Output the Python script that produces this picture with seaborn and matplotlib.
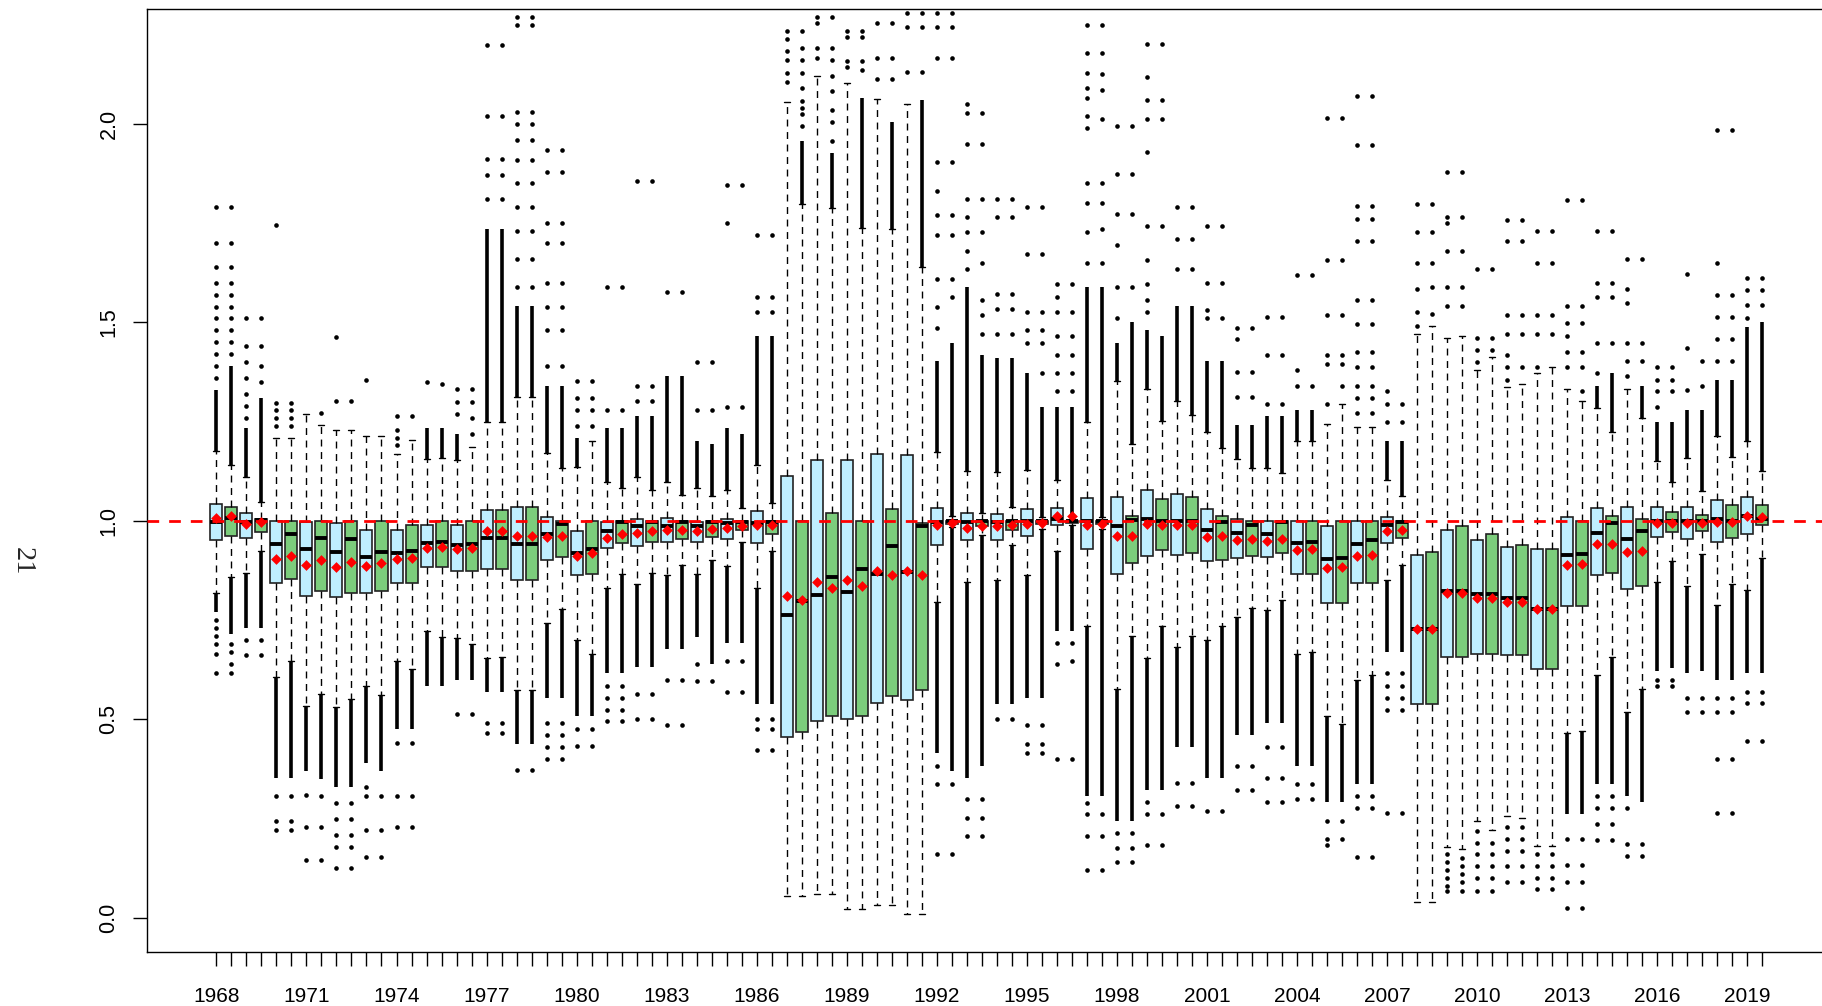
import numpy as np
import pandas as pd
import matplotlib
matplotlib.use("Agg")
import matplotlib.pyplot as plt
import seaborn as sns

sns.set_style("ticks")
plt.rcParams['font.family'] = ['Liberation Sans', 'DejaVu Sans']

years = list(range(1968, 2020))

# box stats, two boxes (blue, green) per year
q1 = [0.952, 0.963, 0.958, 0.971, 0.844, 0.855, 0.812, 0.824, 0.809, 0.819,
      0.819, 0.824, 0.844, 0.844, 0.883, 0.883, 0.875, 0.875, 0.878, 0.878,
      0.850, 0.850, 0.901, 0.909, 0.863, 0.866, 0.932, 0.944, 0.937, 0.948,
      0.948, 0.955, 0.948, 0.960, 0.955, 0.977, 0.944, 0.968, 0.457, 0.468,
      0.497, 0.508, 0.500, 0.508, 0.542, 0.559, 0.549, 0.574, 0.940, 0.992,
      0.951, 0.986, 0.951, 0.977, 0.963, 0.992, 0.991, 0.995, 0.929, 0.992,
      0.867, 0.893, 0.912, 0.927, 0.914, 0.920, 0.898, 0.901, 0.906, 0.912,
      0.909, 0.920, 0.866, 0.867, 0.793, 0.793, 0.843, 0.843, 0.944, 0.958,
      0.539, 0.539, 0.657, 0.657, 0.665, 0.665, 0.662, 0.662, 0.627, 0.627,
      0.785, 0.785, 0.863, 0.869, 0.829, 0.835, 0.960, 0.972, 0.955, 0.974,
      0.948, 0.958, 0.968, 0.989]
med = [0.998, 1.008, 0.998, 1.002, 0.943, 0.966, 0.929, 0.958, 0.921, 0.955,
       0.910, 0.921, 0.920, 0.924, 0.944, 0.948, 0.940, 0.943, 0.958, 0.958,
       0.943, 0.943, 0.966, 0.992, 0.920, 0.929, 0.975, 0.997, 0.986, 0.997,
       0.986, 0.997, 0.986, 0.997, 0.994, 0.998, 0.994, 0.997, 0.762, 0.798,
       0.813, 0.860, 0.821, 0.878, 0.866, 0.938, 0.872, 0.986, 0.997, 1.000,
       0.997, 1.000, 0.997, 1.000, 1.000, 1.000, 1.005, 1.000, 1.000, 1.000,
       0.988, 1.002, 1.005, 1.000, 1.000, 1.000, 0.977, 0.998, 0.969, 0.991,
       0.968, 0.998, 0.944, 0.948, 0.904, 0.906, 0.941, 0.952, 0.991, 0.997,
       0.727, 0.727, 0.824, 0.824, 0.815, 0.815, 0.806, 0.806, 0.778, 0.778,
       0.914, 0.917, 0.969, 0.994, 0.954, 0.975, 1.000, 1.000, 1.000, 1.000,
       1.005, 1.000, 1.012, 1.005]
q3 = [1.042, 1.035, 1.020, 1.006, 1.000, 1.000, 0.997, 1.000, 0.994, 1.000,
      0.978, 1.000, 0.977, 0.991, 0.991, 1.000, 0.989, 1.000, 1.028, 1.028,
      1.035, 1.035, 1.009, 1.000, 0.975, 1.000, 0.998, 1.000, 1.005, 1.000,
      1.008, 1.000, 0.998, 1.000, 1.005, 1.000, 1.025, 1.000, 1.113, 1.000,
      1.153, 1.020, 1.153, 1.000, 1.168, 1.029, 1.165, 0.996, 1.032, 1.000,
      1.020, 1.000, 1.017, 1.000, 1.029, 1.000, 1.032, 1.000, 1.059, 1.000,
      1.060, 1.012, 1.079, 1.056, 1.069, 1.060, 1.029, 1.012, 1.005, 1.000,
      1.000, 1.000, 1.000, 1.000, 0.986, 1.000, 1.000, 1.000, 1.009, 1.000,
      0.914, 0.921, 0.978, 0.986, 0.951, 0.966, 0.934, 0.940, 0.929, 0.929,
      1.009, 1.000, 1.032, 1.012, 1.034, 1.006, 1.035, 1.022, 1.035, 1.014,
      1.052, 1.039, 1.060, 1.040]
wlo = [0.819, 0.860, 0.870, 0.924, 0.608, 0.647, 0.535, 0.565, 0.531, 0.551,
       0.585, 0.562, 0.647, 0.627, 0.724, 0.708, 0.705, 0.690, 0.654, 0.658,
       0.573, 0.573, 0.742, 0.778, 0.701, 0.665, 0.832, 0.866, 0.840, 0.870,
       0.863, 0.890, 0.867, 0.901, 0.886, 0.948, 0.832, 0.924, 0.056, 0.056,
       0.060, 0.060, 0.022, 0.022, 0.034, 0.034, 0.009, 0.009, 0.796, 0.985,
       0.847, 0.965, 0.850, 0.940, 0.863, 0.980, 0.924, 0.990, 0.736, 0.980,
       0.577, 0.711, 0.654, 0.736, 0.682, 0.711, 0.701, 0.735, 0.759, 0.781,
       0.775, 0.801, 0.665, 0.670, 0.508, 0.489, 0.600, 0.611, 0.850, 0.890,
       0.040, 0.040, 0.179, 0.173, 0.245, 0.222, 0.256, 0.253, 0.181, 0.181,
       0.466, 0.472, 0.611, 0.657, 0.520, 0.577, 0.847, 0.898, 0.835, 0.917,
       0.789, 0.840, 0.827, 0.906]
whi = [1.176, 1.140, 1.110, 1.048, 1.210, 1.210, 1.270, 1.241, 1.228, 1.228,
       1.215, 1.215, 1.168, 1.205, 1.156, 1.159, 1.153, 1.187, 1.248, 1.248,
       1.313, 1.313, 1.171, 1.133, 1.137, 1.202, 1.097, 1.082, 1.110, 1.079,
       1.097, 1.066, 1.082, 1.063, 1.079, 1.032, 1.140, 1.045, 2.054, 1.799,
       2.120, 1.789, 2.102, 1.738, 2.063, 1.735, 2.051, 1.639, 1.174, 1.012,
       1.125, 1.020, 1.122, 1.035, 1.128, 1.010, 1.102, 1.006, 1.248, 1.010,
       1.353, 1.194, 1.333, 1.252, 1.302, 1.267, 1.225, 1.184, 1.156, 1.133,
       1.133, 1.120, 1.202, 1.202, 1.245, 1.295, 1.236, 1.236, 1.102, 1.063,
       1.472, 1.491, 1.461, 1.465, 1.380, 1.414, 1.338, 1.344, 1.372, 1.387,
       1.332, 1.301, 1.284, 1.224, 1.333, 1.259, 1.151, 1.097, 1.159, 1.076,
       1.213, 1.160, 1.202, 1.125]
means = [1.008, 1.012, 0.992, 0.997, 0.904, 0.912, 0.890, 0.901, 0.883, 0.897,
         0.886, 0.894, 0.904, 0.906, 0.932, 0.935, 0.929, 0.932, 0.974, 0.974,
         0.961, 0.961, 0.960, 0.963, 0.912, 0.918, 0.958, 0.968, 0.969, 0.974,
         0.977, 0.978, 0.974, 0.980, 0.983, 0.986, 0.989, 0.991, 0.810, 0.801,
         0.847, 0.832, 0.850, 0.835, 0.875, 0.863, 0.875, 0.863, 0.991, 0.994,
         0.983, 0.986, 0.986, 0.989, 0.992, 0.994, 1.012, 1.012, 0.991, 0.992,
         0.961, 0.963, 0.992, 0.991, 0.991, 0.991, 0.960, 0.961, 0.951, 0.954,
         0.949, 0.955, 0.927, 0.929, 0.881, 0.883, 0.912, 0.915, 0.974, 0.977,
         0.728, 0.728, 0.819, 0.819, 0.806, 0.806, 0.796, 0.796, 0.778, 0.778,
         0.890, 0.892, 0.941, 0.943, 0.923, 0.924, 0.994, 0.994, 0.994, 0.994,
         0.998, 0.997, 1.012, 1.009]

# where the packed outliers end (below and above the whiskers)
lo_dense = [0.770, 0.716, 0.731, 0.731, 0.353, 0.353, 0.370, 0.350, 0.330, 0.330,
            0.390, 0.370, 0.477, 0.477, 0.585, 0.585, 0.600, 0.600, 0.569, 0.569,
            0.438, 0.438, 0.554, 0.554, 0.508, 0.508, 0.616, 0.616, 0.631, 0.631,
            0.677, 0.677, 0.708, 0.639, 0.693, 0.693, 0.539, 0.539, 0.056, 0.056,
            0.060, 0.060, 0.022, 0.022, 0.034, 0.034, 0.009, 0.009, 0.415, 0.369,
            0.353, 0.384, 0.539, 0.539, 0.554, 0.554, 0.724, 0.724, 0.307, 0.307,
            0.245, 0.245, 0.323, 0.323, 0.431, 0.431, 0.353, 0.353, 0.461, 0.461,
            0.492, 0.492, 0.384, 0.384, 0.292, 0.292, 0.338, 0.338, 0.670, 0.670,
            0.040, 0.040, 0.179, 0.173, 0.245, 0.222, 0.256, 0.253, 0.181, 0.181,
            0.261, 0.261, 0.338, 0.338, 0.307, 0.292, 0.623, 0.630, 0.616, 0.623,
            0.600, 0.600, 0.616, 0.616]
up_dense = [1.330, 1.390, 1.233, 1.310, 1.210, 1.210, 1.270, 1.241, 1.228, 1.228,
            1.215, 1.215, 1.168, 1.205, 1.233, 1.233, 1.220, 1.187, 1.735, 1.735,
            1.542, 1.542, 1.341, 1.341, 1.210, 1.202, 1.233, 1.233, 1.264, 1.264,
            1.364, 1.364, 1.202, 1.195, 1.233, 1.218, 1.465, 1.465, 2.054, 1.958,
            2.120, 1.927, 2.102, 2.066, 2.063, 2.005, 2.051, 2.059, 1.403, 1.449,
            1.588, 1.418, 1.410, 1.410, 1.372, 1.287, 1.287, 1.287, 1.588, 1.588,
            1.449, 1.500, 1.480, 1.465, 1.542, 1.542, 1.403, 1.403, 1.241, 1.241,
            1.264, 1.264, 1.279, 1.279, 1.245, 1.295, 1.236, 1.236, 1.202, 1.202,
            1.472, 1.491, 1.461, 1.465, 1.380, 1.414, 1.338, 1.344, 1.372, 1.387,
            1.332, 1.301, 1.341, 1.372, 1.333, 1.341, 1.248, 1.248, 1.279, 1.279,
            1.356, 1.356, 1.488, 1.500]

# single outliers further out
lo_pts = [
    [0.75, 0.73, 0.71, 0.69, 0.665, 0.616], [0.69, 0.67, 0.64, 0.616],
    [0.70, 0.662], [0.70, 0.662],
    [0.307, 0.245, 0.222], [0.307, 0.245, 0.222],
    [0.31, 0.23, 0.145], [0.307, 0.23, 0.145],
    [0.29, 0.25, 0.21, 0.18, 0.125], [0.29, 0.25, 0.21, 0.18, 0.125],
    [0.33, 0.307, 0.222, 0.153], [0.307, 0.222, 0.153],
    [0.44, 0.307, 0.23], [0.44, 0.307, 0.23],
    [], [],
    [0.515], [0.515],
    [0.49, 0.465], [0.49, 0.465],
    [0.372], [0.372],
    [0.49, 0.46, 0.43, 0.40], [0.49, 0.46, 0.43, 0.40],
    [0.477, 0.434], [0.477, 0.434],
    [0.585, 0.554, 0.523, 0.495], [0.585, 0.554, 0.523, 0.495],
    [0.565, 0.50], [0.565, 0.50],
    [0.60, 0.485], [0.60, 0.485],
    [0.639, 0.596], [0.596],
    [0.646, 0.569], [0.646, 0.569],
    [0.50, 0.477, 0.423], [0.50, 0.477, 0.423],
    [], [],
    [], [], [], [], [], [], [], [],
    [0.384, 0.338, 0.16], [0.338, 0.16],
    [0.30, 0.253, 0.207], [0.30, 0.253, 0.207],
    [0.50], [0.50],
    [0.485, 0.438, 0.415], [0.485, 0.438, 0.415],
    [0.693, 0.639, 0.40], [0.693, 0.646, 0.40],
    [0.29, 0.262, 0.207, 0.122], [0.262, 0.207, 0.122],
    [0.214, 0.176, 0.14], [0.214, 0.176, 0.14],
    [0.292, 0.261, 0.184], [0.261, 0.184],
    [0.341, 0.281], [0.341, 0.281],
    [0.269], [0.269],
    [0.384, 0.323], [0.384, 0.323],
    [0.431, 0.353, 0.292], [0.431, 0.353, 0.292],
    [0.338, 0.299], [0.338, 0.299],
    [0.245, 0.199, 0.184], [0.245, 0.199],
    [0.307, 0.276, 0.153], [0.307, 0.276, 0.153],
    [0.616, 0.585, 0.554, 0.523, 0.264], [0.616, 0.585, 0.554, 0.523, 0.264],
    [], [],
    [0.16, 0.14, 0.12, 0.10, 0.08, 0.068], [0.15, 0.13, 0.11, 0.09, 0.068],
    [0.22, 0.19, 0.16, 0.13, 0.10, 0.068], [0.19, 0.16, 0.13, 0.10, 0.068],
    [0.23, 0.20, 0.17, 0.13, 0.09], [0.23, 0.20, 0.17, 0.13, 0.09],
    [0.16, 0.13, 0.10, 0.073], [0.16, 0.13, 0.10, 0.073],
    [0.20, 0.134, 0.09, 0.025], [0.20, 0.134, 0.09, 0.025],
    [0.307, 0.276, 0.238, 0.196], [0.307, 0.276, 0.238, 0.196],
    [0.276, 0.187, 0.156], [0.187, 0.156],
    [0.60, 0.585], [0.60, 0.585],
    [0.554, 0.519], [0.554, 0.519],
    [0.554, 0.519, 0.40, 0.265], [0.554, 0.519, 0.40, 0.265],
    [0.569, 0.541, 0.446], [0.569, 0.541, 0.446],
]
up_pts = [
    [1.36, 1.39, 1.42, 1.45, 1.48, 1.51, 1.54, 1.57, 1.60, 1.64, 1.70, 1.79],
    [1.42, 1.45, 1.48, 1.51, 1.54, 1.57, 1.60, 1.64, 1.70, 1.79],
    [1.26, 1.29, 1.32, 1.36, 1.40, 1.44, 1.51], [1.35, 1.39, 1.44, 1.51],
    [1.24, 1.26, 1.28, 1.296, 1.745], [1.24, 1.26, 1.28, 1.296],
    [], [1.272],
    [1.302, 1.463], [1.302],
    [1.356], [],
    [1.19, 1.21, 1.23, 1.264], [1.264],
    [1.35], [1.346],
    [1.27, 1.30, 1.333], [1.22, 1.26, 1.30, 1.333],
    [1.81, 1.87, 1.912, 2.02, 2.198], [1.81, 1.87, 1.912, 2.02, 2.198],
    [1.59, 1.66, 1.73, 1.79, 1.85, 1.91, 1.96, 2.0, 2.03, 2.25, 2.27],
    [1.59, 1.66, 1.73, 1.79, 1.85, 1.91, 1.96, 2.0, 2.03, 2.25, 2.27],
    [1.39, 1.48, 1.54, 1.60, 1.70, 1.75, 1.88, 1.935],
    [1.39, 1.48, 1.54, 1.60, 1.70, 1.75, 1.88, 1.935],
    [1.24, 1.28, 1.31, 1.353], [1.24, 1.28, 1.31, 1.353],
    [1.28, 1.588], [1.28, 1.588],
    [1.302, 1.34, 1.855], [1.302, 1.34, 1.855],
    [1.576], [1.576],
    [1.28, 1.40], [1.28, 1.40],
    [1.287, 1.75, 1.846], [1.287, 1.846],
    [1.526, 1.565, 1.72], [1.526, 1.565, 1.72],
    [2.105, 2.128, 2.16, 2.183, 2.213, 2.235],
    [1.995, 2.026, 2.04, 2.058, 2.09, 2.128, 2.16, 2.19, 2.235],
    [2.166, 2.19, 2.255, 2.27],
    [1.958, 2.005, 2.036, 2.082, 2.12, 2.16, 2.19, 2.27],
    [2.143, 2.158, 2.22, 2.235], [2.136, 2.158, 2.22, 2.235],
    [2.113, 2.166, 2.255], [2.113, 2.166, 2.255],
    [2.131, 2.244, 2.28], [2.131, 2.244, 2.28],
    [1.485, 1.54, 1.61, 1.72, 1.77, 1.83, 1.905, 2.165, 2.245, 2.28],
    [1.565, 1.61, 1.72, 1.77, 1.905, 2.165, 2.245, 2.28],
    [1.634, 1.68, 1.727, 1.765, 1.81, 1.95, 2.027, 2.05],
    [1.472, 1.518, 1.557, 1.65, 1.727, 1.81, 1.95, 2.027],
    [1.472, 1.534, 1.572, 1.765, 1.81], [1.472, 1.534, 1.572, 1.765, 1.81],
    [1.449, 1.48, 1.526, 1.673, 1.79], [1.372, 1.449, 1.48, 1.526, 1.673, 1.79],
    [1.326, 1.372, 1.418, 1.465, 1.526, 1.565, 1.596],
    [1.326, 1.372, 1.418, 1.465, 1.526, 1.596],
    [1.65, 1.727, 1.80, 1.85, 1.99, 2.02, 2.066, 2.09, 2.128, 2.178, 2.25],
    [1.65, 1.735, 1.80, 1.85, 2.012, 2.085, 2.125, 2.178, 2.25],
    [1.51, 1.588, 1.696, 1.773, 1.873, 1.994], [1.588, 1.773, 1.873, 1.994],
    [1.526, 1.557, 1.596, 1.657, 1.742, 1.928, 2.012, 2.059, 2.117, 2.20],
    [1.742, 2.012, 2.059, 2.20],
    [1.634, 1.71, 1.79], [1.634, 1.71, 1.79],
    [1.51, 1.53, 1.60, 1.742], [1.51, 1.60, 1.742],
    [1.313, 1.375, 1.457, 1.485], [1.313, 1.375, 1.485],
    [1.295, 1.418, 1.514], [1.295, 1.418, 1.514],
    [1.341, 1.38, 1.619], [1.341, 1.619],
    [1.295, 1.395, 1.418, 1.518, 1.657, 2.015], [1.341, 1.395, 1.418, 1.518, 1.657, 2.015],
    [1.272, 1.31, 1.341, 1.387, 1.426, 1.495, 1.557, 1.704, 1.761, 1.793, 1.946, 2.071],
    [1.272, 1.31, 1.341, 1.387, 1.426, 1.495, 1.557, 1.704, 1.761, 1.793, 1.946, 2.071],
    [1.248, 1.295, 1.326], [1.248, 1.295],
    [1.49, 1.526, 1.585, 1.649, 1.727, 1.799], [1.522, 1.588, 1.649, 1.727, 1.799],
    [1.542, 1.588, 1.68, 1.75, 1.765, 1.88], [1.542, 1.588, 1.68, 1.765, 1.88],
    [1.40, 1.43, 1.46, 1.634], [1.43, 1.46, 1.634],
    [1.356, 1.387, 1.418, 1.472, 1.518, 1.704, 1.758], [1.387, 1.472, 1.518, 1.704, 1.758],
    [1.387, 1.472, 1.518, 1.65, 1.73], [1.472, 1.518, 1.65, 1.73],
    [1.387, 1.426, 1.465, 1.498, 1.541, 1.807], [1.326, 1.387, 1.426, 1.498, 1.541, 1.807],
    [1.372, 1.449, 1.565, 1.60, 1.731], [1.449, 1.565, 1.60, 1.731],
    [1.364, 1.403, 1.449, 1.549, 1.585, 1.66], [1.403, 1.449, 1.66],
    [1.287, 1.326, 1.356, 1.387], [1.326, 1.356, 1.387],
    [1.33, 1.436, 1.623], [1.341, 1.403],
    [1.403, 1.457, 1.514, 1.57, 1.65, 1.985], [1.403, 1.457, 1.514, 1.57, 1.985],
    [1.511, 1.543, 1.581, 1.611], [1.543, 1.581, 1.611],
]

n = len(q1)
for arr in (med, q3, wlo, whi, means, lo_dense, up_dense, lo_pts, up_pts):
    assert len(arr) == n, len(arr)

pos = np.arange(n)
grp = ['a' if i % 2 == 0 else 'b' for i in pos]
labels = [str(years[i // 2]) if i % 6 == 0 else '' for i in pos]

# five values per box give exactly these quartiles and whisker ends
rows = []
for i in pos:
    for v in (wlo[i], q1[i], med[i], q3[i], whi[i]):
        rows.append((i, v, grp[i]))
df = pd.DataFrame(rows, columns=['pos', 'val', 'grp'])

out = [(i, v) for i in pos for v in lo_pts[i] + up_pts[i]]
df_out = pd.DataFrame(out, columns=['pos', 'val'])
df_mean = pd.DataFrame({'pos': pos, 'val': means})

fig = plt.figure(figsize=(18.22, 10.06), dpi=100)
ax = fig.add_axes([146.5 / 1822, 54 / 1006, (1832 - 146.5) / 1822, (952 - 9.5) / 1006])

sns.boxplot(data=df, x='pos', y='val', hue='grp', native_scale=True, dodge=False,
            palette={'a': '#BFEFFF', 'b': '#7CCD7C'}, saturation=1, width=0.8,
            whis=(0, 100), showfliers=False, linecolor='#222222', linewidth=1.2,
            medianprops=dict(color='black', linewidth=2.8),
            whiskerprops=dict(color='black', linewidth=1.0, linestyle=(0, (5, 4))),
            capprops=dict(color='black', linewidth=1.0),
            legend=False, ax=ax)

# packed outliers, drawn as solid streaks
for i in pos:
    if up_dense[i] > whi[i] + 0.001:
        ax.vlines(i, whi[i], up_dense[i], colors='black', lw=2.6, zorder=2)
    if lo_dense[i] < wlo[i] - 0.001:
        ax.vlines(i, lo_dense[i], wlo[i], colors='black', lw=2.6, zorder=2)

sns.scatterplot(data=df_out, x='pos', y='val', color='black', s=11, linewidth=0,
                marker='o', legend=False, ax=ax, zorder=2)

ax.axhline(1.0, color='red', lw=2.0, dashes=(4.2, 3.6), zorder=3)

sns.scatterplot(data=df_mean, x='pos', y='val', color='red', s=30, linewidth=0,
                marker='D', legend=False, ax=ax, zorder=4)

ax.set_xlim(-4.66, 107.66)
ax.set_ylim(-0.0856, 2.288)
ax.set_xticks(pos)
ax.set_xticklabels(labels)
ax.set_yticks([0, 0.5, 1.0, 1.5, 2.0])
ax.set_yticklabels(['0.0', '0.5', '1.0', '1.5', '2.0'], rotation=90, va='center')
ax.tick_params(axis='x', direction='out', length=10, width=1, pad=15, labelsize=15, colors='black')
ax.tick_params(axis='y', direction='out', length=10, width=1, pad=9.5, labelsize=15.5, colors='black')
ax.set_xlabel('')
ax.set_ylabel('')
for sp in ax.spines.values():
    sp.set_visible(True)
    sp.set_color('black')
    sp.set_linewidth(1.0)

fig.text(22 / 1822, 1 - 561 / 1006, '21', rotation=270, ha='center', va='center',
         family=['Liberation Serif', 'DejaVu Serif'], fontsize=20.5)

fig.savefig('out.png', dpi=100)
